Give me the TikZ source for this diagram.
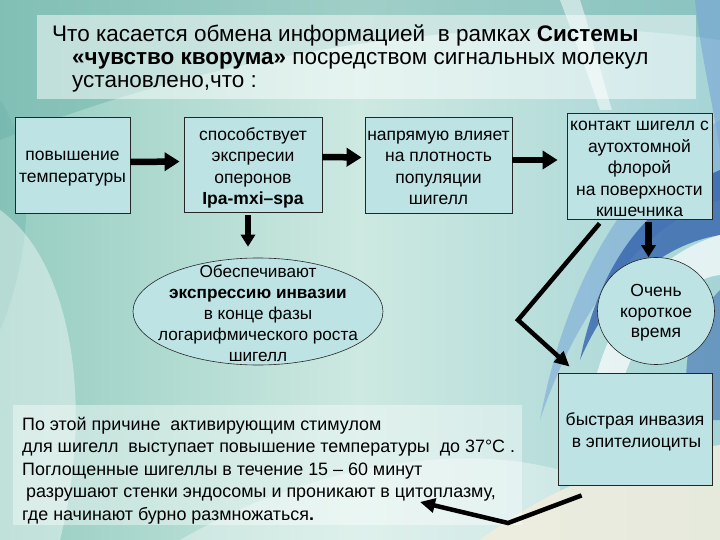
\documentclass[tikz,border=0pt]{standalone}
\usepackage{fontspec}
\setmainfont{Liberation Sans}
\usetikzlibrary{arrows.meta,shapes.geometric,calc}
\definecolor{boxfill}{RGB}{190,227,229}
\definecolor{bgL}{RGB}{150,205,193}
\definecolor{bgM}{RGB}{205,233,225}
\definecolor{bgR}{RGB}{165,212,214}
\definecolor{bgTop}{RGB}{105,175,168}
\definecolor{swblue}{RGB}{45,92,170}
\definecolor{swlblue}{RGB}{120,165,215}
\definecolor{cream}{RGB}{242,238,222}
\tikzset{
  boxtext/.style={font=\fontsize{17.5}{21.5}\selectfont, align=center, text=black, inner sep=0pt},
  flowbox/.style={draw=black!85, line width=0.8pt, fill=boxfill, inner sep=0pt},
  ovalshape/.style={ellipse, draw=black!85, line width=0.6pt, fill=boxfill, inner sep=0pt},
  harrow/.style={line width=6.5pt, -{Triangle[length=15pt,width=18pt]}},
  varrow/.style={line width=6.5pt, -{Triangle[length=12pt,width=14pt]}},
  darrow/.style={line width=4.5pt, line join=miter, -{Triangle[length=15pt,width=14pt]}},
  panel/.style={fill=white, inner sep=0pt}
}
\begin{document}
\begin{tikzpicture}[x=1pt,y=-1pt]
\useasboundingbox (0,0) rectangle (720,540);
% ---------- background ----------
\shade[left color=bgL, right color=bgR, middle color=bgM] (0,0) rectangle (720,540);
\fill[bgTop, opacity=0.45] (0,0) -- (720,0) -- (720,40) .. controls (520,10) and (250,40) .. (0,140) -- cycle;
\fill[bgTop, opacity=0.35] (0,100) .. controls (40,160) and (30,260) .. (0,330) -- cycle;
\fill[white, opacity=0.4] (0,210) .. controls (70,260) and (95,400) .. (60,540) -- (0,540) -- cycle;
\fill[white, opacity=0.35] (180,540) .. controls (300,470) and (450,440) .. (560,470) -- (560,540) -- cycle;
\fill[white, opacity=0.5] (560,0) .. controls (575,40) and (590,80) .. (600,110) -- (612,110) .. controls (600,70) and (590,30) .. (580,0) -- cycle;
\fill[swlblue, opacity=0.6] (695,0) -- (720,0) -- (720,150) .. controls (712,100) and (700,50) .. (695,0) -- cycle;
\fill[swlblue, opacity=0.55] (720,120) .. controls (640,170) and (570,260) .. (540,420) .. controls (580,300) and (650,220) .. (720,200) -- cycle;
\fill[swblue, opacity=0.75] (720,170) .. controls (650,200) and (600,260) .. (580,360) .. controls (610,290) and (660,245) .. (720,235) -- cycle;
\fill[white, opacity=0.7] (720,235) .. controls (650,255) and (600,320) .. (585,430) -- (610,430) .. controls (625,340) and (675,280) .. (720,275) -- cycle;
\fill[swblue, opacity=0.5] (720,290) .. controls (690,320) and (680,360) .. (690,420) -- (720,420) -- cycle;
\fill[cream, opacity=0.85] (480,540) .. controls (560,480) and (640,455) .. (720,445) -- (720,540) -- cycle;
% ---------- panels ----------
\node[panel, opacity=0.5, minimum width=659pt, minimum height=84pt] (title) at (366.5,57) {};
\node[anchor=north west, align=left, inner sep=0pt, font=\fontsize{22.5}{23}\selectfont] (titletext) at (52,25)
  {Что касается обмена информацией \ в рамках \textbf{Системы}\\
   \hspace*{20pt}\textbf{«чувство кворума»} посредством сигнальных молекул\\
   \hspace*{20pt}установлено,что :};
\node[panel, opacity=0.4, minimum width=509pt, minimum height=120pt] (note) at (267.5,465) {};
\node[anchor=north west, align=left, inner sep=0pt, font=\fontsize{17.9}{22.5}\selectfont] (notetext) at (22,417)
  {По этой причине \ активирующим стимулом\\
   для шигелл \ выступает повышение температуры \ до 37°C .\\
   Поглощенные шигеллы в течение 15 – 60 минут\\
   \hspace*{4pt}разрушают стенки эндосомы и проникают в цитоплазму,\\
   где начинают бурно размножаться\textbf{.}};
% ---------- flow boxes ----------
\node[flowbox, minimum width=115pt, minimum height=96pt] (b1) at (72.5,165) {};
\node[boxtext] (t1) at ([yshift=-3.5pt]b1.center) {повышение\\температуры};
\node[flowbox, minimum width=138pt, minimum height=95pt] (b2) at (253,164.5) {};
\node[boxtext] (t2) at ([yshift=-3.5pt]b2.center) {способствует\\экспресии\\оперонов\\\textbf{Ipa-mxi–spa}};
\node[flowbox, minimum width=147pt, minimum height=96pt] (b3) at (438.5,165) {};
\node[boxtext] (t3) at ([yshift=-3pt]b3.center) {напрямую влияет\\на плотность\\популяции\\шигелл};
\node[flowbox, minimum width=145pt, minimum height=106pt] (b4) at (639.5,166) {};
\node[boxtext] (t4) at ([yshift=-3pt]b4.center) {контакт шигелл с\\аутохтомной\\флорой\\на поверхности\\кишечника};
\node[flowbox, minimum width=154pt, minimum height=112pt] (b5) at (635,429) {};
\node[boxtext] (t5) at ([yshift=-3pt]b5.center) {быстрая инвазия\\\hspace*{3pt}в эпителиоциты};
% ---------- ovals ----------
\node[ovalshape, minimum width=250pt, minimum height=107pt] (ell) at (258,311.5) {};
\node[boxtext, font=\fontsize{17.2}{21}\selectfont] (elltext) at ([yshift=-2pt]ell.center) {Обеспечивают\\\textbf{экспрессию инвазии}\\в конце фазы\\логарифмического роста\\шигелл};
\node[ovalshape, minimum width=117pt, minimum height=107pt] (circ) at (656,311) {};
\node[boxtext, font=\fontsize{17.5}{20.5}\selectfont] (circtext) at ([yshift=-2pt]circ.center) {Очень\\короткое\\время};
% ---------- connectors ----------
\draw[harrow, shorten >=4pt] ([yshift=3pt]b1.east) -- ([yshift=3pt]b2.west);
\draw[harrow, shorten >=3pt] ([yshift=7.5pt]b2.east) -- ([yshift=7.5pt]b3.west);
\draw[harrow, shorten >=9pt] ([yshift=5pt]b3.east) -- ([yshift=5pt]b3.east -| b4.west);
\coordinate (c2) at ([xshift=-5pt]b2.south);
\draw[varrow, shorten <=3pt, shorten >=11pt] (c2) -- (c2 |- ell.north);
\coordinate (c4) at ([xshift=9pt]b4.south);
\draw[varrow, shorten <=3pt] (c4) -- (c4 |- circ.north);
\coordinate (k1) at (518,320);
\draw[darrow] ([xshift=33pt,yshift=-4pt]b4.south west) -- (k1) -- ([xshift=12pt,yshift=6pt]b5.north west);
\coordinate (k2) at (508,523);
\coordinate (k3) at (420,502);
\draw[darrow] ([xshift=24pt,yshift=-10pt]b5.south west) -- (k2) -- (k3);
\end{tikzpicture}
\end{document}
